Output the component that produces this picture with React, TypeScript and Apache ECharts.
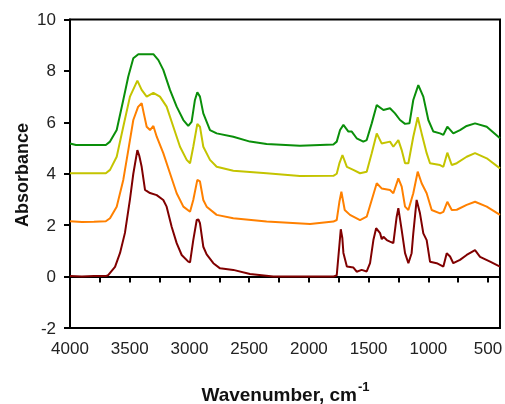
import React, { useEffect, useRef } from "react";
import * as echarts from "echarts";

const xTickLabels = [4000, 3500, 3000, 2500, 2000, 1500, 1000, 500];
const xTicks = [4000, 3750, 3500, 3250, 3000, 2750, 2500, 2250, 2000, 1750, 1500, 1250, 1000, 750, 500];

const maroon: number[][] = [
  [4000, 0.02], [3900, 0.0], [3800, 0.02], [3700, 0.02], [3682, 0.05], [3623, 0.38], [3581, 0.92], [3540, 1.7],
  [3498, 3.0], [3470, 4.0], [3436, 4.92], [3420, 4.7], [3400, 4.27], [3372, 3.37], [3330, 3.25], [3274, 3.17],
  [3219, 2.98], [3191, 2.72], [3149, 1.94], [3107, 1.3], [3065, 0.84], [3010, 0.58], [2995, 0.55], [2968, 1.42],
  [2939, 2.2], [2925, 2.22], [2912, 2.08], [2884, 1.16], [2856, 0.86], [2800, 0.52], [2744, 0.32], [2633, 0.26],
  [2493, 0.1], [2298, 0.0], [2000, 0.0], [1795, 0.0], [1767, 0.05], [1745, 1.2], [1733, 1.84], [1720, 1.5],
  [1711, 0.92], [1682, 0.39], [1627, 0.35], [1600, 0.19], [1558, 0.26], [1516, 0.2], [1488, 0.52], [1460, 1.42],
  [1437, 1.88], [1404, 1.69], [1390, 1.45], [1376, 1.55], [1348, 1.42], [1321, 1.36], [1293, 1.3], [1265, 2.33],
  [1251, 2.66], [1223, 1.81], [1195, 0.91], [1167, 0.52], [1140, 0.91], [1126, 1.68], [1098, 2.98], [1070, 2.46],
  [1042, 1.68], [1014, 1.42], [986, 0.58], [930, 0.52], [874, 0.39], [846, 0.91], [818, 0.78], [791, 0.52],
  [735, 0.65], [679, 0.84], [609, 1.03], [567, 0.77], [483, 0.58], [400, 0.39],
];

const orange: number[][] = [
  [4000, 2.15], [3900, 2.12], [3800, 2.13], [3700, 2.15], [3665, 2.27], [3609, 2.72], [3554, 3.76], [3512, 4.92],
  [3470, 6.09], [3430, 6.6], [3400, 6.74], [3380, 6.3], [3358, 5.83], [3330, 5.7], [3302, 5.86], [3274, 5.44],
  [3219, 4.8], [3163, 4.02], [3107, 3.24], [3051, 2.72], [2995, 2.52], [2968, 2.98], [2934, 3.76], [2912, 3.7],
  [2884, 2.98], [2856, 2.72], [2772, 2.4], [2633, 2.27], [2354, 2.14], [1990, 2.05], [1795, 2.14], [1767, 2.2],
  [1745, 2.9], [1728, 3.3], [1700, 2.59], [1656, 2.4], [1572, 2.2], [1516, 2.33], [1474, 2.98], [1432, 3.63],
  [1391, 3.43], [1321, 3.37], [1293, 3.24], [1251, 3.82], [1223, 3.5], [1195, 2.72], [1167, 2.59], [1126, 3.24],
  [1089, 4.08], [1056, 3.63], [1014, 3.24], [972, 2.59], [902, 2.46], [874, 2.52], [841, 2.91], [804, 2.59],
  [762, 2.6], [679, 2.79], [609, 2.91], [511, 2.72], [400, 2.4],
];

const yellow: number[][] = [
  [4000, 4.02], [3700, 4.02], [3665, 4.15], [3609, 4.66], [3554, 5.83], [3498, 7.0], [3436, 7.62], [3400, 7.26],
  [3358, 7.0], [3302, 7.15], [3247, 7.0], [3191, 6.61], [3135, 5.83], [3079, 5.05], [3023, 4.54], [2995, 4.41],
  [2968, 5.05], [2934, 5.94], [2912, 5.83], [2884, 5.05], [2828, 4.54], [2772, 4.27], [2633, 4.12], [2354, 4.02],
  [2075, 3.91], [1795, 3.92], [1767, 4.0], [1745, 4.4], [1719, 4.73], [1682, 4.27], [1628, 4.15], [1572, 4.02],
  [1516, 4.08], [1474, 4.8], [1432, 5.57], [1391, 5.18], [1321, 5.25], [1293, 5.05], [1251, 5.31], [1223, 4.92],
  [1195, 4.41], [1167, 4.41], [1126, 5.44], [1089, 6.2], [1056, 5.57], [1014, 4.8], [986, 4.41], [902, 4.34],
  [874, 4.27], [841, 4.82], [804, 4.34], [762, 4.41], [679, 4.66], [609, 4.8], [511, 4.6], [400, 4.21],
];

const green: number[][] = [
  [4000, 5.18], [3950, 5.12], [3700, 5.12], [3665, 5.25], [3609, 5.7], [3554, 6.87], [3512, 7.78], [3470, 8.49],
  [3428, 8.65], [3302, 8.65], [3260, 8.42], [3219, 8.04], [3163, 7.26], [3107, 6.61], [3051, 6.09], [3010, 5.86],
  [2982, 6.02], [2954, 6.87], [2934, 7.17], [2912, 7.0], [2884, 6.35], [2828, 5.7], [2772, 5.57], [2633, 5.44],
  [2493, 5.25], [2354, 5.16], [2075, 5.09], [1795, 5.14], [1767, 5.25], [1739, 5.7], [1711, 5.9], [1669, 5.64],
  [1641, 5.64], [1600, 5.38], [1544, 5.25], [1516, 5.31], [1474, 5.96], [1432, 6.67], [1376, 6.48], [1321, 6.55],
  [1279, 6.35], [1237, 6.09], [1195, 5.94], [1158, 5.96], [1126, 6.87], [1084, 7.45], [1042, 7.0], [1000, 6.09],
  [958, 5.64], [902, 5.57], [874, 5.51], [841, 5.83], [791, 5.57], [735, 5.7], [679, 5.86], [609, 5.96],
  [511, 5.83], [400, 5.38],
];

const seriesList = [
  { name: "A", data: maroon, color: "#800000" },
  { name: "B", data: orange, color: "#ff8000" },
  { name: "C", data: yellow, color: "#c4c400" },
  { name: "D", data: green, color: "#0a8f0a" },
];

const FONT = "'Liberation Sans', Arial, sans-serif";

export default function App() {
  const ref = useRef<HTMLDivElement>(null);
  useEffect(() => {
    if (!ref.current) return;
    document.body.style.margin = "0";
    document.body.style.overflow = "hidden";
    const chart = echarts.init(ref.current, undefined, { renderer: "svg", width: 505, height: 404 });
    chart.setOption({
      animation: false,
      grid: {
        left: 70,
        right: 5,
        top: 19.5,
        bottom: 76,
        outerBoundsMode: "none",
        containLabel: false,
        show: true,
        borderColor: "#000",
        borderWidth: 2,
        backgroundColor: "transparent",
      },
      xAxis: {
        type: "value",
        min: 400,
        max: 4000,
        inverse: true,
        splitLine: { show: false },
        axisLine: { show: true, lineStyle: { color: "#000", width: 2 } },
        axisTick: {
          show: true,
          inside: false,
          length: 6,
          lineStyle: { color: "#000", width: 2 },
          customValues: xTicks,
        },
        axisLabel: {
          customValues: xTickLabels,
          formatter: (v: number) => String(v),
          color: "#222",
          fontSize: 17,
          fontFamily: FONT,
          margin: 12,
          showMinLabel: true,
          showMaxLabel: true,
        },
      },
      yAxis: {
        type: "value",
        min: -2,
        max: 10,
        interval: 2,
        splitLine: { show: false },
        axisLine: { show: true, lineStyle: { color: "#000", width: 2 } },
        axisTick: { show: true, length: 6, lineStyle: { color: "#000", width: 2 } },
        axisLabel: { color: "#222", fontSize: 17, fontFamily: FONT, margin: 14 },
      },
      graphic: [
        {
          type: "text",
          x: 22,
          y: 175,
          rotation: Math.PI / 2,
          style: {
            text: "Absorbance",
            fill: "#111",
            font: `bold 18px ${FONT}`,
            textAlign: "center",
            textVerticalAlign: "middle",
          },
        },
        {
          type: "text",
          x: 357,
          y: 394,
          style: {
            text: "Wavenumber, cm",
            fill: "#111",
            font: `bold 19px ${FONT}`,
            textAlign: "right",
            textVerticalAlign: "middle",
          },
        },
        {
          type: "text",
          x: 358,
          y: 386,
          style: {
            text: "-1",
            fill: "#111",
            font: `bold 13px ${FONT}`,
            textAlign: "left",
            textVerticalAlign: "middle",
          },
        },
      ],
      series: seriesList.map((s) => ({
        name: s.name,
        type: "line",
        data: s.data,
        showSymbol: false,
        symbol: "none",
        lineStyle: { color: s.color, width: 2 },
        itemStyle: { color: s.color },
      })),
    });
    return () => chart.dispose();
  }, []);
  return <div ref={ref} style={{ width: 505, height: 404, position: "fixed", left: 0, top: 0 }} />;
}
